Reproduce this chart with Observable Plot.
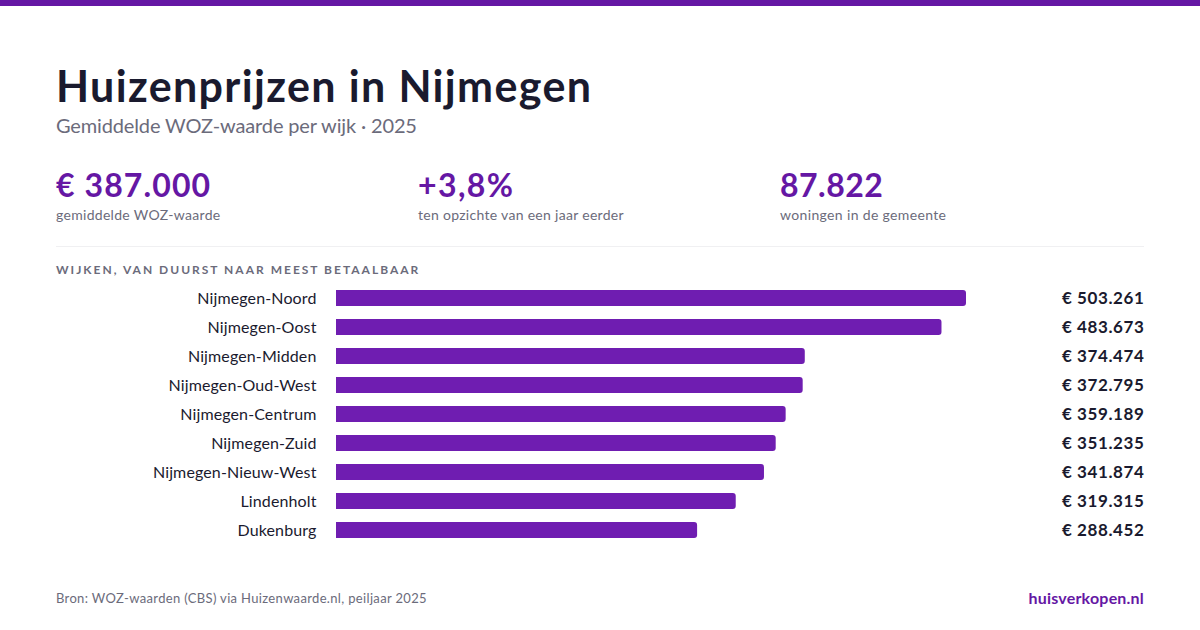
<!DOCTYPE html>
<html lang="nl">
<head>
<meta charset="utf-8">
<script src="https://cdn.jsdelivr.net/npm/d3@7"></script>
<script src="https://cdn.jsdelivr.net/npm/@observablehq/plot@0.6"></script>
<style>
html,body{margin:0;padding:0;background:#fff}
body{width:1200px;height:630px;position:relative;overflow:hidden;font-family:Lato,sans-serif}
.t{position:absolute;white-space:nowrap;line-height:1}
#bar{position:absolute;left:0;top:0;width:1200px;height:6px;background:#6517a4}
#rule{position:absolute;left:56px;top:246px;width:1088px;height:1px;background:#f0f0f2}
#chart{position:absolute;left:0;top:283px}
#chart svg g[aria-label="text"]{letter-spacing:.6px}
</style>
</head>
<body>
<div id="bar"></div>
<div class="t" style="left:56px;top:64px;font-size:43px;font-weight:700;color:#1a1a2e;letter-spacing:1.35px">Huizenprijzen in Nijmegen</div>
<div class="t" style="left:56px;top:115px;font-size:20px;color:#6b6b7b;letter-spacing:-.14px">Gemiddelde WOZ-waarde per wijk · 2025</div>
<div class="t" style="left:56px;top:169px;font-size:32px;font-weight:700;color:#6517a4;letter-spacing:1.1px">€ 387.000</div>
<div class="t" style="left:56px;top:208px;font-size:14px;color:#6b6b7b;letter-spacing:.3px">gemiddelde WOZ-waarde</div>
<div class="t" style="left:418px;top:169px;font-size:32px;font-weight:700;color:#6517a4;letter-spacing:1.4px">+3,8%</div>
<div class="t" style="left:418px;top:208px;font-size:14px;color:#6b6b7b;letter-spacing:.3px">ten opzichte van een jaar eerder</div>
<div class="t" style="left:780px;top:169px;font-size:32px;font-weight:700;color:#6517a4;letter-spacing:.5px">87.822</div>
<div class="t" style="left:780px;top:208px;font-size:14px;color:#6b6b7b;letter-spacing:.35px">woningen in de gemeente</div>
<div id="rule"></div>
<div class="t" style="left:56px;top:264px;font-size:12px;font-weight:700;color:#6b6b7b;letter-spacing:2px">WIJKEN, VAN DUURST NAAR MEEST BETAALBAAR</div>
<div id="chart"></div>
<div class="t" style="left:56px;top:592px;font-size:13px;color:#6b6b7b;letter-spacing:.34px">Bron: WOZ-waarden (CBS) via Huizenwaarde.nl, peiljaar 2025</div>
<div class="t" style="right:56px;top:590px;font-size:16px;font-weight:700;color:#6517a4;letter-spacing:.2px">huisverkopen.nl</div>
<script>
const wijken = ["Nijmegen-Noord","Nijmegen-Oost","Nijmegen-Midden","Nijmegen-Oud-West","Nijmegen-Centrum","Nijmegen-Zuid","Nijmegen-Nieuw-West","Lindenholt","Dukenburg"];
const waarden = [503261,483673,374474,372795,359189,351235,341874,319315,288452];
const labels = ["€ 503.261","€ 483.673","€ 374.474","€ 372.795","€ 359.189","€ 351.235","€ 341.874","€ 319.315","€ 288.452"];
const rows = wijken.map((w,i)=>({wijk:w,waarde:waarden[i],label:labels[i]}));
const plot = Plot.plot({
  width:1200,height:263,
  marginLeft:336,marginRight:56,marginTop:0,marginBottom:0,
  style:{background:"transparent",fontFamily:"Lato, sans-serif",overflow:"visible",letterSpacing:".12px"},
  x:{domain:[0,503261],range:[336,966],axis:null},
  y:{domain:wijken,range:[0.5,261.5],paddingInner:0.448,paddingOuter:0.224,round:false,label:null},
  marks:[
    Plot.axisY({tickSize:0,tickPadding:20,fontSize:16,color:"#1a1a2e",label:null}),
    Plot.barX(rows,{x:"waarde",y:"wijk",fill:"#6f1db1",rx2:3}),
    Plot.text(rows,{text:"label",y:"wijk",frameAnchor:"right",textAnchor:"end",fontSize:17,fontWeight:700,fill:"#1a1a2e"})
  ]
});
document.getElementById("chart").appendChild(plot);
</script>
</body>
</html>
